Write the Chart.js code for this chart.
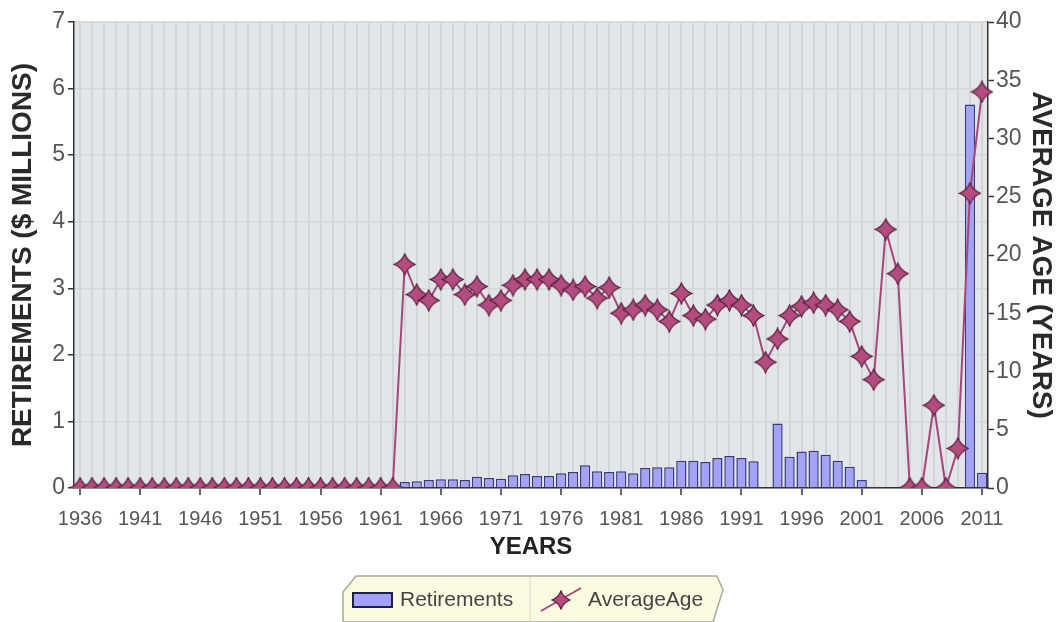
<!DOCTYPE html>
<html>
<head>
<meta charset="utf-8">
<script src="https://cdn.jsdelivr.net/npm/chart.js@4.4.0/dist/chart.umd.min.js"></script>
<style>
  html, body { margin: 0; padding: 0; background: #fff; }
  #wrap { width: 1058px; height: 622px; }
</style>
</head>
<body>
<div id="wrap"><canvas id="retChart"></canvas></div>
<script>
const years = [
  '1936','1937','1938','1939','1940','1941','1942','1943','1944','1945',
  '1946','1947','1948','1949','1950','1951','1952','1953','1954','1955',
  '1956','1957','1958','1959','1960','1961','1962','1963','1964','1965',
  '1966','1967','1968','1969','1970','1971','1972','1973','1974','1975',
  '1976','1977','1978','1979','1980','1981','1982','1983','1984','1985',
  '1986','1987','1988','1989','1990','1991','1992','1993','1994','1995',
  '1996','1997','1998','1999','2000','2001','2002','2003','2004','2005',
  '2006','2007','2008','2009','2010','2011'
];

// $ millions
const retirements = [
  0, 0, 0, 0, 0, 0, 0, 0, 0, 0,
  0, 0, 0, 0, 0, 0, 0, 0, 0, 0,
  0, 0, 0, 0, 0, 0, 0, 0.09, 0.10, 0.12,
  0.13, 0.13, 0.12, 0.17, 0.15, 0.14, 0.19, 0.21, 0.18, 0.18,
  0.22, 0.24, 0.34, 0.25, 0.24, 0.25, 0.22, 0.30, 0.31, 0.31,
  0.41, 0.41, 0.39, 0.45, 0.48, 0.45, 0.40, 0, 0.97, 0.47,
  0.55, 0.56, 0.50, 0.41, 0.32, 0.12, 0.02, 0.01, 0.01, 0.01,
  0.01, 0.01, 0.01, 0.01, 5.76, 0.23
];

// years
const averageAge = [
  0, 0, 0, 0, 0, 0, 0, 0, 0, 0,
  0, 0, 0, 0, 0, 0, 0, 0, 0, 0,
  0, 0, 0, 0, 0, 0, 0, 19.2, 16.6, 16.1,
  17.9, 17.9, 16.6, 17.3, 15.7, 16.1, 17.4, 17.9, 17.9, 17.9,
  17.4, 17.0, 17.3, 16.3, 17.2, 15.0, 15.3, 15.7, 15.3, 14.3,
  16.7, 14.8, 14.5, 15.7, 16.1, 15.7, 14.8, 10.8, 12.8, 14.8,
  15.6, 15.9, 15.7, 15.3, 14.3, 11.3, 9.3, 22.2, 18.4, 0,
  0, 7.1, 0, 3.4, 25.3, 34.0
];

const FONT = "'Liberation Sans', Arial, sans-serif";
const barFill = '#a2a2f7';
const barEdge = '#3a3a7c';
const lineColor = '#a4487a';

// four-point star marker
function makeStar(size) {
  const c = document.createElement('canvas');
  c.width = size;
  c.height = size;
  const g = c.getContext('2d');
  const m = size / 2, r = size / 2 - 1, k = r * 0.28;
  g.beginPath();
  g.moveTo(m, m - r);
  g.quadraticCurveTo(m + k, m - k, m + r, m);
  g.quadraticCurveTo(m + k, m + k, m, m + r);
  g.quadraticCurveTo(m - k, m + k, m - r, m);
  g.quadraticCurveTo(m - k, m - k, m, m - r);
  g.closePath();
  g.fillStyle = '#b34d7f';
  g.fill();
  g.lineWidth = 1.2;
  g.strokeStyle = '#5a1d3c';
  g.stroke();
  return c;
}
const star = makeStar(23);
const smallStar = makeStar(20);

const plotBg = {
  id: 'plotBg',
  beforeDraw(chart) {
    const { ctx, chartArea: a } = chart;
    ctx.save();
    ctx.fillStyle = '#e3e6e9';
    ctx.fillRect(a.left, a.top, a.right - a.left, a.bottom - a.top);
    ctx.restore();
  }
};

const legendBox = {
  id: 'legendBox',
  afterDraw(chart) {
    const ctx = chart.ctx;
    const cx = chart.width / 2;
    const x0 = cx - 186, x1 = cx + 194, top = 576, bot = chart.height;
    ctx.save();
    ctx.beginPath();
    ctx.moveTo(x0, bot);
    ctx.lineTo(x0, top + 16);
    ctx.lineTo(x0 + 13, top);
    ctx.lineTo(x1 - 6, top);
    ctx.lineTo(x1, top + 14);
    ctx.lineTo(x1 - 10, bot);
    ctx.closePath();
    ctx.fillStyle = '#fbfbe2';
    ctx.fill();
    ctx.strokeStyle = '#a9a9a0';
    ctx.lineWidth = 1.5;
    ctx.stroke();

    const div = x0 + 187;
    ctx.beginPath();
    ctx.moveTo(div, top + 1);
    ctx.lineTo(div, bot);
    ctx.strokeStyle = '#d8d8c8';
    ctx.lineWidth = 1;
    ctx.stroke();

    const midY = 600;
    const ds = chart.data.datasets;
    // bar item
    ctx.fillStyle = barFill;
    ctx.fillRect(x0 + 10, midY - 7, 39, 14);
    ctx.strokeStyle = '#1e1e50';
    ctx.lineWidth = 2;
    ctx.strokeRect(x0 + 10, midY - 7, 39, 14);
    ctx.font = '21px ' + FONT;
    ctx.fillStyle = '#444';
    ctx.textBaseline = 'middle';
    ctx.fillText(ds[1].label, x0 + 57, midY);
    // line item
    ctx.beginPath();
    ctx.moveTo(div + 11, midY + 11);
    ctx.lineTo(div + 51, midY - 12);
    ctx.strokeStyle = lineColor;
    ctx.lineWidth = 2;
    ctx.stroke();
    ctx.drawImage(smallStar, div + 31 - 10, midY - 10);
    ctx.fillStyle = '#444';
    ctx.fillText(ds[0].label, div + 58, midY);
    ctx.restore();
  }
};

Chart.defaults.font.family = FONT;

const ctx = document.getElementById('retChart').getContext('2d');
const chart = new Chart(ctx, {
  type: 'bar',
  data: {
    labels: years,
    datasets: [
      {
        type: 'line',
        label: 'AverageAge',
        data: averageAge,
        yAxisID: 'yAge',
        borderColor: lineColor,
        borderWidth: 2,
        tension: 0,
        pointStyle: star,
        pointRadius: 10,
        pointHoverRadius: 10,
        order: 0
      },
      {
        type: 'bar',
        label: 'Retirements',
        data: retirements,
        yAxisID: 'yRet',
        backgroundColor: barFill,
        borderColor: barEdge,
        borderWidth: 1.5,
        barPercentage: 0.85,
        categoryPercentage: 1.0,
        order: 1
      }
    ]
  },
  options: {
    responsive: true,
    maintainAspectRatio: false,
    animation: false,
    events: [],
    layout: { padding: { top: 22, bottom: 58, left: 0, right: 0 } },
    plugins: {
      legend: { display: false },
      tooltip: { enabled: false }
    },
    scales: {
      x: {
        offset: true,
        afterFit(scale) { scale.height = 76; },
        grid: {
          offset: false,
          color: '#d2d5d9',
          lineWidth: 2,
          tickLength: 7,
          tickColor: (c) => (c.index % 5 === 0 ? '#333' : 'rgba(0,0,0,0)'),
          tickWidth: 1.5
        },
        border: { color: '#333', width: 1.5 },
        ticks: {
          autoSkip: false,
          maxRotation: 0,
          padding: 12,
          color: '#555',
          font: { size: 20 },
          callback(value, index) {
            return index % 5 === 0 ? this.getLabelForValue(value) : '';
          }
        },
        title: {
          display: true,
          text: 'YEARS',
          color: '#222',
          font: { size: 24, weight: 'bold' },
          padding: { top: 0, bottom: 2 }
        }
      },
      yRet: {
        position: 'left',
        min: 0,
        max: 7,
        afterFit(scale) { scale.width = 74; },
        ticks: { stepSize: 1, padding: 3, color: '#555', font: { size: 23 } },
        grid: { color: '#d4d7db', lineWidth: 1.5, tickLength: 6, tickColor: '#333', tickWidth: 1.5 },
        border: { color: '#333', width: 1.5 },
        title: {
          display: true,
          text: 'RETIREMENTS ($ MILLIONS)',
          color: '#2a2a2a',
          font: { size: 28, weight: 'bold' },
          padding: { top: 6, bottom: 0 }
        }
      },
      yAge: {
        position: 'right',
        min: 0,
        max: 40,
        afterFit(scale) { scale.width = 70; },
        ticks: { stepSize: 5, padding: 2, color: '#555', font: { size: 23 } },
        grid: { drawOnChartArea: false, tickLength: 6, tickColor: '#333', tickWidth: 1.5 },
        border: { color: '#333', width: 1.5 },
        title: {
          display: true,
          text: 'AVERAGE AGE (YEARS)',
          color: '#2a2a2a',
          font: { size: 28, weight: 'bold' },
          padding: { top: 0, bottom: 0 }
        }
      }
    }
  },
  plugins: [plotBg, legendBox]
});
</script>
</body>
</html>
